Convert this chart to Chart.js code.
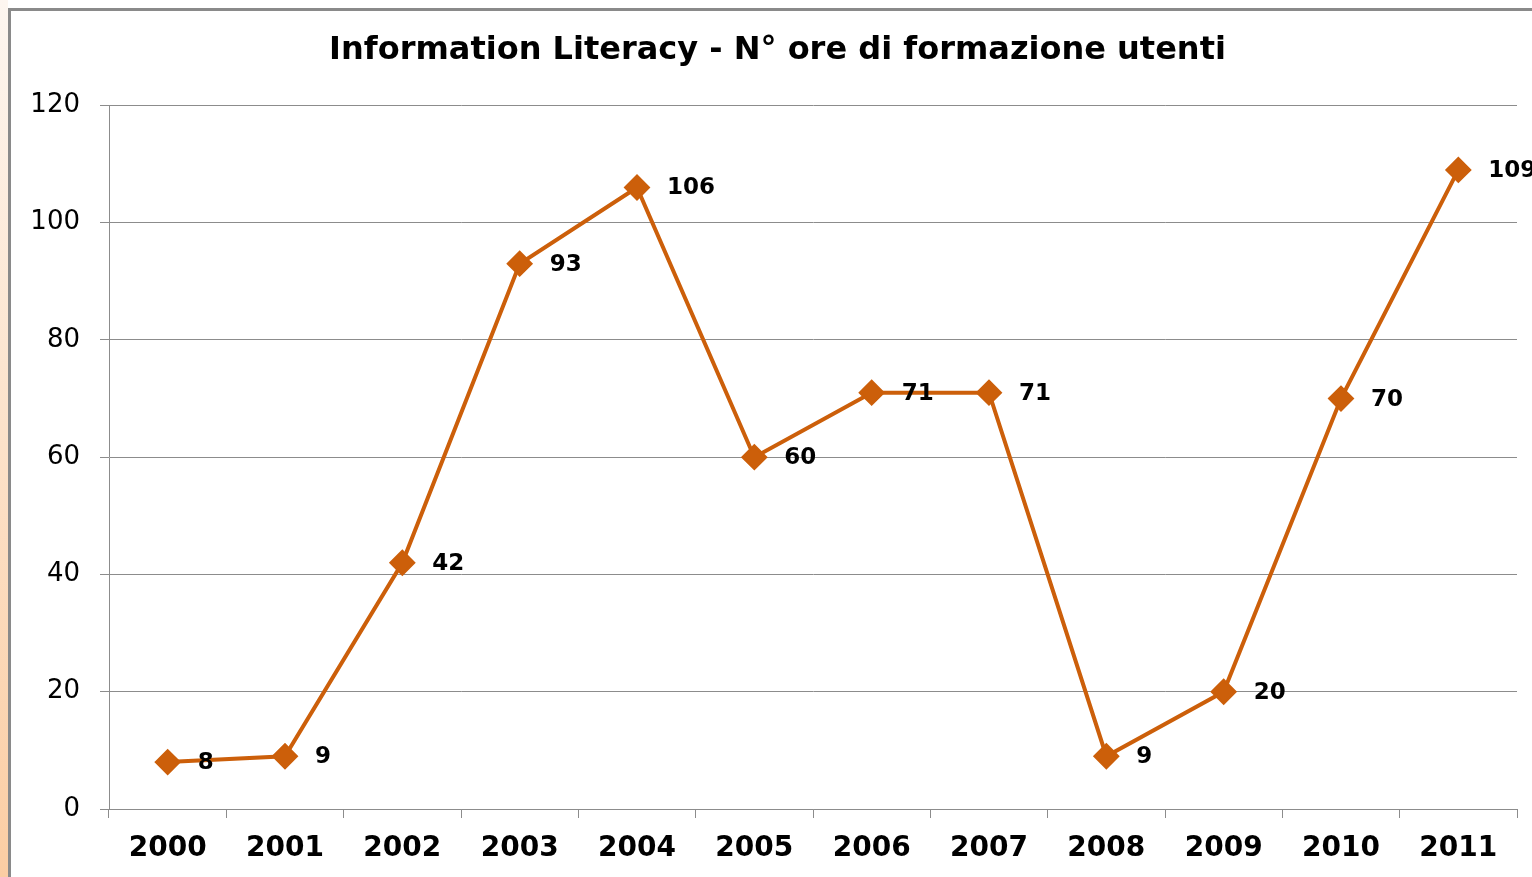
<!DOCTYPE html>
<html>
<head>
<meta charset="utf-8">
<title>Information Literacy</title>
<script src="https://cdn.jsdelivr.net/npm/chart.js@4"></script>
<style>
  html, body { margin: 0; padding: 0; overflow: hidden; background: #fff; }
  body { width: 1532px; height: 877px; position: relative; }
  .strip {
    position: absolute; left: 0; top: 0; width: 8px; height: 877px;
    background: linear-gradient(#fdf6f0, #fbcda3);
  }
  .frame {
    position: absolute; left: 8px; top: 8px;
    border-left: 3px solid #8a8a8a; border-top: 3px solid #8a8a8a;
    width: 1540px; height: 900px;
  }
  canvas { display: block; }
</style>
</head>
<body>
<div class="strip"></div>
<div class="frame">
  <canvas id="chart" width="1533" height="880"></canvas>
</div>
<script>
const years = ['2000', '2001', '2002', '2003', '2004', '2005', '2006', '2007', '2008', '2009', '2010', '2011'];
const hours = [8, 9, 42, 93, 106, 60, 71, 71, 9, 20, 70, 109];
const chartTitle = 'Information Literacy - N° ore di formazione utenti';

const lineColor = '#cc5f0a';
const gridColor = '#8c8c8c';
const fontFamily = '"DejaVu Sans", Verdana, sans-serif';

// draws the value to the right of each point
const valueLabels = {
  id: 'valueLabels',
  afterDatasetsDraw(chart) {
    const ctx = chart.ctx;
    const meta = chart.getDatasetMeta(0);
    ctx.save();
    ctx.font = 'bold 23px ' + fontFamily;
    ctx.fillStyle = '#000';
    ctx.textAlign = 'left';
    ctx.textBaseline = 'middle';
    meta.data.forEach((pt, i) => {
      ctx.fillText(String(hours[i]), pt.x + 30, pt.y + 1);
    });
    ctx.restore();
  }
};

new Chart(document.getElementById('chart'), {
  type: 'line',
  data: {
    labels: years,
    datasets: [{
      label: 'Ore',
      data: hours,
      borderColor: lineColor,
      backgroundColor: lineColor,
      borderWidth: 4,
      tension: 0,
      pointStyle: 'rectRot',
      pointRadius: 12,
      pointBorderWidth: 2,
      pointBackgroundColor: lineColor,
      pointBorderColor: lineColor
    }]
  },
  options: {
    responsive: false,
    animation: false,
    layout: { padding: 0 },
    plugins: {
      legend: { display: false },
      tooltip: { enabled: false },
      title: {
        display: true,
        text: chartTitle,
        color: '#000',
        font: { family: fontFamily, size: 32, weight: 'bold', lineHeight: 1.2 },
        padding: { top: 20, bottom: 36 }
      }
    },
    scales: {
      x: {
        offset: true,
        grid: {
          offset: true,
          drawOnChartArea: false,
          color: gridColor,
          tickLength: 9
        },
        border: { color: gridColor, width: 1 },
        ticks: {
          color: '#000',
          padding: 14,
          maxRotation: 0,
          font: { family: fontFamily, size: 28, weight: 'bold' }
        },
        afterFit(scale) { scale.height = 82; }
      },
      y: {
        min: 0,
        max: 120,
        grid: { color: gridColor, tickLength: 9 },
        border: { color: gridColor, width: 1 },
        ticks: {
          stepSize: 20,
          color: '#000',
          padding: 20,
          font: { family: fontFamily, size: 26 }
        },
        afterFit(scale) { scale.width = 98; }
      },
      // empty right-hand axis, only reserves space so the title stays centred on the whole frame
      spacer: {
        position: 'right',
        min: 0,
        max: 120,
        grid: { display: false },
        border: { display: false },
        ticks: { display: false },
        afterFit(scale) { scale.width = 27; }
      }
    }
  },
  plugins: [valueLabels]
});
</script>
</body>
</html>
